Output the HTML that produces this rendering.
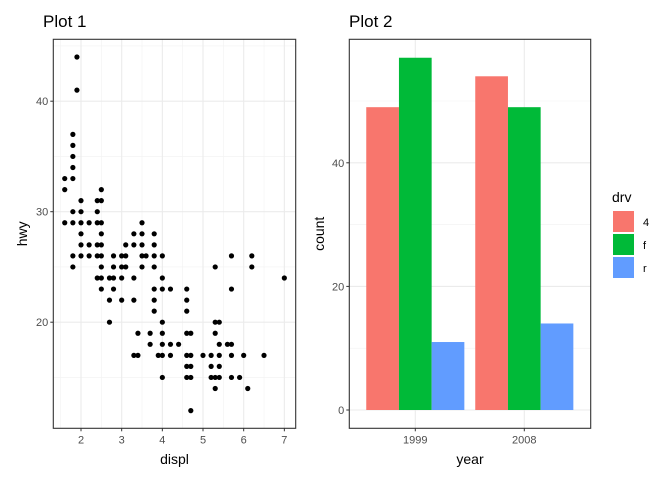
<!DOCTYPE html>
<html><head><meta charset="utf-8"><style>
body{margin:0;background:#fff;font-family:"Liberation Sans",sans-serif}
svg{display:block}
</style></head><body>
<svg id="c" width="672" height="480" xmlns="http://www.w3.org/2000/svg"></svg>
<script>
// Plot 1 data: displ / hwy
const displ = [1.9,1.9,1.8,1.8,1.8,1.8,1.6,1.8,1.6,2.5,2.0,2.4,2.5,1.8,2.0,2.4,
1.6,1.8,2.0,2.2,2.4,2.5,3.5,
2.0,2.5,3.3,3.5,3.8,
2.0,2.2,2.4,2.5,3.1,3.3,3.5,3.8,
1.8,2.0,2.2,2.4,2.5,2.8,3.0,3.1,3.5,3.6,3.8,4.0,5.7,6.2,
1.8,2.5,2.8,3.0,3.1,3.5,3.8,5.3,6.2,
2.4,2.5,2.7,2.8,3.0,3.3,4.0,7.0,
2.5,2.8,3.8,4.0,4.2,4.6,5.7,
2.7,3.0,3.3,3.8,4.6,
3.8,4.6,
2.7,4.0,5.3,5.4,
3.4,3.7,4.0,4.6,4.7,5.3,
3.7,4.0,4.2,4.4,5.4,5.6,5.7,
3.3,3.4,3.9,4.0,4.2,4.6,4.7,5.0,5.2,5.4,5.7,6.0,6.5,
4.6,4.7,5.2,5.4,
4.0,4.6,4.7,5.2,5.3,5.4,5.7,5.9,
5.3,6.1,
4.7];
const hwy = [44,41,37,36,35,34,33,33,32,32,31,31,31,30,30,30,
29,29,29,29,29,29,29,
28,28,28,28,28,
27,27,27,27,27,27,27,27,
26,26,26,26,26,26,26,26,26,26,26,26,26,26,
25,25,25,25,25,25,25,25,25,
24,24,24,24,24,24,24,24,
23,23,23,23,23,23,23,
22,22,22,22,22,
21,21,
20,20,20,20,
19,19,19,19,19,19,
18,18,18,18,18,18,18,
17,17,17,17,17,17,17,17,17,17,17,17,17,
16,16,16,16,
15,15,15,15,15,15,15,15,
14,14,
12];
const xTicks1 = [2,3,4,5,6,7];
const yTicks1 = [20,30,40];
// Plot 2 data
const years = ["1999","2008"];
const drvs = ["4","f","r"];
const counts4 = [49,54];
const countsF = [57,49];
const countsR = [11,14];
const yTicks2 = [0,20,40];
const colors = ["#F8766D","#00BA38","#619CFF"];

const svg = document.getElementById('c');
const NS = "http://www.w3.org/2000/svg";
function mk(tag, attrs, parent){const e=document.createElementNS(NS,tag);for(const k in attrs)e.setAttribute(k,attrs[k]);(parent||svg).appendChild(e);return e;}
function txt(s, attrs){const e=mk('text',attrs);e.textContent=s;return e;}

// Plot 1 scales
const P1={l:53.3,r:295.7,t:39.3,b:428.3};
const sx1=v=>81+(v-2)*40.67;
const sy1=v=>211.7-(v-30)*11.05;
// Plot 2 scales
const P2={l:349.3,r:590.7,t:39.3,b:428.3};
const sy2=v=>410-v*6.18;
const band=109;
const sx2=i=>415.3+i*band;

// Plot 1 grid
[1.5,2.5,3.5,4.5,5.5,6.5].forEach(v=>{const g=mk('line',{x1:sx1(v),x2:sx1(v),y1:P1.t,y2:P1.b,stroke:'#f2f2f2','stroke-width':0.6});

});
[15,25,35,45].forEach(v=>{const g=mk('line',{x1:P1.l,x2:P1.r,y1:sy1(v),y2:sy1(v),stroke:'#f2f2f2','stroke-width':0.6});

});
xTicks1.forEach(v=>{const g=mk('line',{x1:sx1(v),x2:sx1(v),y1:P1.t,y2:P1.b,stroke:'#ebebeb','stroke-width':1.1});


const t=mk('line',{x1:sx1(v),x2:sx1(v),y1:P1.b,y2:P1.b+3,stroke:'#333','stroke-width':1});


const l=txt(String(v),{x:sx1(v),y:P1.b+15,'text-anchor':'middle','font-size':11,fill:'#4d4d4d'});

});
yTicks1.forEach(v=>{const g=mk('line',{x1:P1.l,x2:P1.r,y1:sy1(v),y2:sy1(v),stroke:'#ebebeb','stroke-width':1.1});


const t=mk('line',{x1:P1.l-3,x2:P1.l,y1:sy1(v),y2:sy1(v),stroke:'#333','stroke-width':1});


const l=txt(String(v),{x:P1.l-5,y:sy1(v)+4,'text-anchor':'end','font-size':11,fill:'#4d4d4d'});

});
displ.forEach((d,i)=>{const p=mk('circle',{cx:sx1(d),cy:sy1(hwy[i]),r:2.6,fill:'#000'});

});
const b1=mk('rect',{x:P1.l,y:P1.t,width:P1.r-P1.l,height:P1.b-P1.t,fill:'none',stroke:'#333','stroke-width':1.1});



// Plot 2 grid
[10,30,50].forEach(v=>{const g=mk('line',{x1:P2.l,x2:P2.r,y1:sy2(v),y2:sy2(v),stroke:'#f2f2f2','stroke-width':0.6});

});
yTicks2.forEach(v=>{const g=mk('line',{x1:P2.l,x2:P2.r,y1:sy2(v),y2:sy2(v),stroke:'#ebebeb','stroke-width':1.1});


const t=mk('line',{x1:P2.l-3,x2:P2.l,y1:sy2(v),y2:sy2(v),stroke:'#333','stroke-width':1});


const l=txt(String(v),{x:P2.l-5,y:sy2(v)+4,'text-anchor':'end','font-size':11,fill:'#4d4d4d'});

});
years.forEach((y,i)=>{const g=mk('line',{x1:sx2(i),x2:sx2(i),y1:P2.t,y2:P2.b,stroke:'#ebebeb','stroke-width':1.1});


const t=mk('line',{x1:sx2(i),x2:sx2(i),y1:P2.b,y2:P2.b+3,stroke:'#333','stroke-width':1});


const l=txt(y,{x:sx2(i),y:P2.b+15,'text-anchor':'middle','font-size':11,fill:'#4d4d4d'});

});
const series=[counts4,countsF,countsR];
const bw=band*0.9/3;
series.forEach((s,k)=>s.forEach((v,i)=>{const x=sx2(i)-band*0.45+k*bw;
const r=mk('rect',{x:x,y:sy2(v),width:bw,height:sy2(0)-sy2(v),fill:colors[k]});

}));
const b2=mk('rect',{x:P2.l,y:P2.t,width:P2.r-P2.l,height:P2.b-P2.t,fill:'none',stroke:'#333','stroke-width':1.1});



// Legend
const lt=txt('drv',{x:612,y:202,'font-size':14,fill:'#000'});


drvs.forEach((d,k)=>{const y=211+k*23;
const r=mk('rect',{x:613,y:y,width:21,height:21,fill:colors[k]});


const t=txt(d,{x:643,y:y+15,'font-size':11,fill:'#000'});

});

// Titles
[['Plot 1',43,'plot1-title'],['Plot 2',349,'plot2-title']].forEach(a=>{const t=txt(a[0],{x:a[1],y:27,'font-size':17,fill:'#000'});

});
const xa1=txt('displ',{x:(P1.l+P1.r)/2,y:464,'text-anchor':'middle','font-size':14});


const xa2=txt('year',{x:(P2.l+P2.r)/2,y:464,'text-anchor':'middle','font-size':14});


const ya1=txt('hwy',{x:0,y:0,'text-anchor':'middle','font-size':14,transform:'translate(27,'+(P1.t+P1.b)/2+') rotate(-90)'});


const ya2=txt('count',{x:0,y:0,'text-anchor':'middle','font-size':14,transform:'translate(324,'+(P2.t+P2.b)/2+') rotate(-90)'});


</script>
</body></html>
